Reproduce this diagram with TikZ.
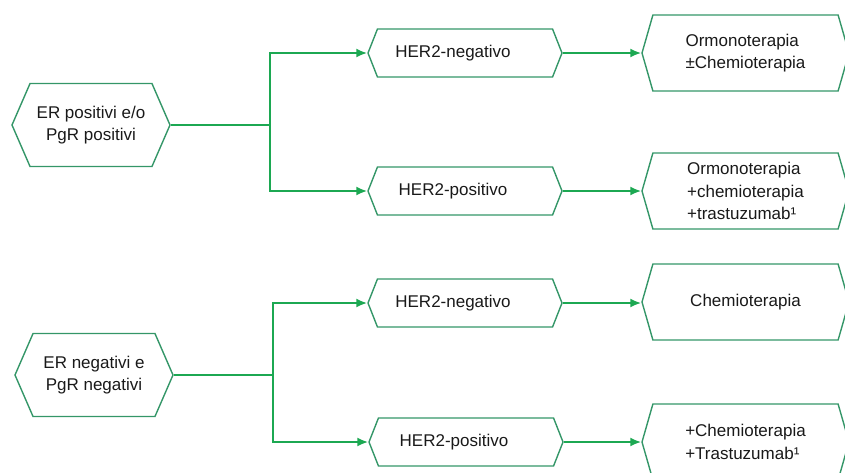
\documentclass[tikz,border=0pt]{standalone}
\usepackage{fontspec}
\setmainfont{Liberation Sans}
\usetikzlibrary{shapes.symbols, arrows.meta}
\definecolor{linegreen}{RGB}{28,168,82}
\definecolor{boxgreen}{RGB}{52,150,104}

\begin{document}
\begin{tikzpicture}[x=1pt, y=-1pt,
  hexa/.style={draw=boxgreen, line width=1.4pt, shape=signal, signal from=nowhere,
    signal to=east and west, inner sep=0pt, text=black!90, font=\fontsize{17}{22.5}\selectfont},
  recbox/.style={hexa, signal pointer angle=133, minimum width=158pt, minimum height=83pt, align=center},
  herbox/.style={hexa, signal pointer angle=137, minimum width=194pt, minimum height=48pt,
    execute at begin node={\hspace*{-24pt}}},
  terbox/.style={hexa, signal pointer angle=148, minimum width=207pt, minimum height=76pt, align=left},
  conn/.style={draw=linegreen, line width=2pt},
  arr/.style={conn, -{Latex[length=11pt, width=9pt]}}]
\useasboundingbox (0,0) rectangle (845,472);

\node[recbox] (erpos) at (91,125) {ER positivi e/o\\PgR positivi};
\node[recbox] (erneg) at (94,375) {ER negativi e\\PgR negativi};

\node[herbox] (h1) at (465,53) {HER2-negativo};
\node[herbox] (h2) at (465,191) {HER2-positivo};
\node[herbox] (h3) at (465,303) {HER2-negativo};
\node[herbox] (h4) at (466,442) {HER2-positivo};

\node[terbox] (t1) at (745.5,53) {Ormonoterapia\\±Chemioterapia};
\node[terbox] (t2) at (745.5,191) {Ormonoterapia\\+chemioterapia\\+trastuzumab¹};
\node[terbox] (t3) at (745.5,302) {Chemioterapia};
\node[terbox] (t4) at (745.5,442) {+Chemioterapia\\+Trastuzumab¹};

\coordinate (j1) at (270,125);
\coordinate (j2) at (273,375);

\draw[conn] (erpos.east) -- (j1);
\draw[arr] (j1) |- (h1.west);
\draw[arr] (j1) |- (h2.west);
\draw[conn] (erneg.east) -- (j2);
\draw[arr] (j2) |- (h3.west);
\draw[arr] (j2) |- (h4.west);

\draw[arr] (h1.east) -- (t1.west |- h1.east);
\draw[arr] (h2.east) -- (t2.west |- h2.east);
\draw[arr] (h3.east) -- (t3.west |- h3.east);
\draw[arr] (h4.east) -- (t4.west |- h4.east);
\end{tikzpicture}
\end{document}
